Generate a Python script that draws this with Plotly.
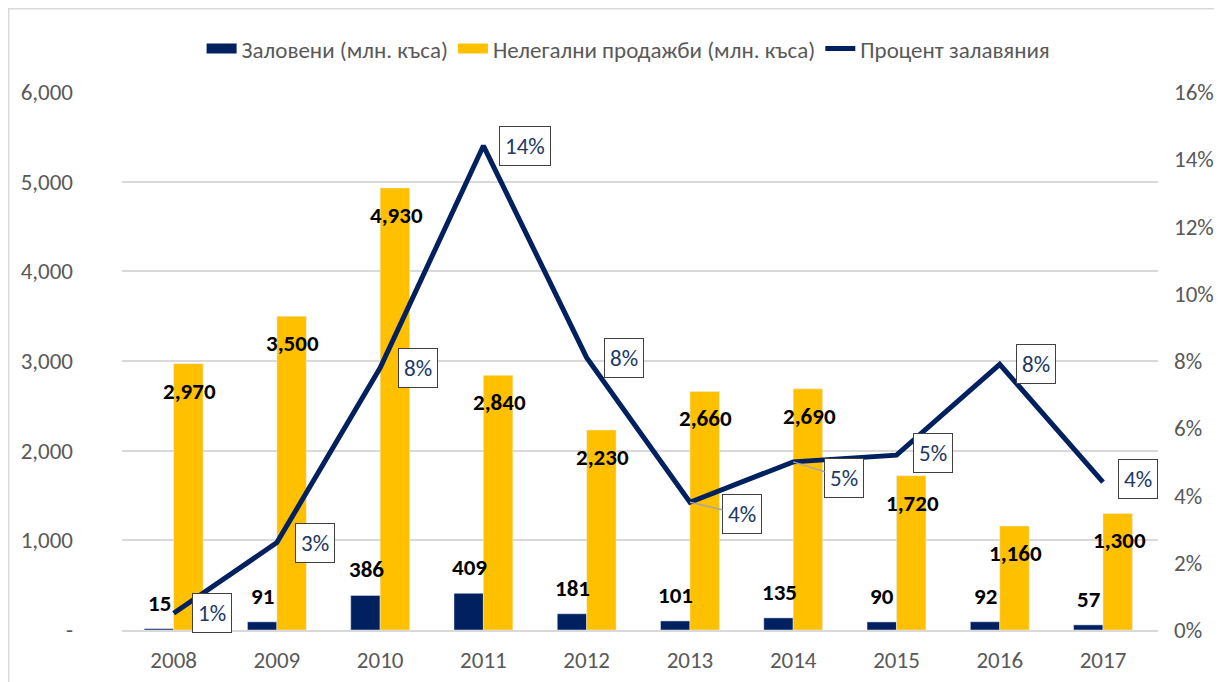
import plotly.graph_objects as go

years = ["2008", "2009", "2010", "2011", "2012", "2013", "2014", "2015", "2016", "2017"]
seized = [15, 91, 386, 409, 181, 101, 135, 90, 92, 57]
illegal_sales = [2970, 3500, 4930, 2840, 2230, 2660, 2690, 1720, 1160, 1300]
seizure_pct = [0.005, 0.026, 0.078, 0.144, 0.081, 0.038, 0.050, 0.052, 0.079, 0.044]
pct_labels = ["1%", "3%", "8%", "14%", "8%", "4%", "5%", "5%", "8%", "4%"]
left_ticks = [0, 1000, 2000, 3000, 4000, 5000, 6000]
left_tick_text = ["-", "1,000", "2,000", "3,000", "4,000", "5,000", "6,000"]
right_ticks = [0, 0.02, 0.04, 0.06, 0.08, 0.10, 0.12, 0.14, 0.16]
series_names = ["Заловени (млн. къса)", "Нелегални продажби (млн. къса)", "Процент залавяния"]

NAVY = "#002060"
GOLD = "#FFC000"
GRAY = "#595959"
FONT = "Carlito, Lato, Roboto, sans-serif"

fig = go.Figure()
fig.add_trace(go.Bar(x=years, y=seized, name=series_names[0], marker_color=NAVY, showlegend=False))
fig.add_trace(go.Bar(x=years, y=illegal_sales, name=series_names[1], marker_color=GOLD, showlegend=False))
# legend-only entries drawn as wide rectangles
fig.add_trace(go.Scatter(x=[None], y=[None], mode="lines", name=series_names[0],
                         line=dict(color=NAVY, width=15)))
fig.add_trace(go.Scatter(x=[None], y=[None], mode="lines", name=series_names[1],
                         line=dict(color=GOLD, width=15)))
fig.add_trace(go.Scatter(x=years, y=seizure_pct, name=series_names[2], yaxis="y2",
                         mode="lines", line=dict(color=NAVY, width=5)))

ann = []
# seized labels above navy bars (x given as category index)
for i, v in enumerate(seized):
    ann.append(dict(x=i, y=v, xref="x", yref="y", text=f"<b>{v:,}</b>", showarrow=False,
                    xshift=-14, yshift=26, font=dict(size=23, color="black", family=FONT)))
# illegal sales labels inside end of gold bars
for i, v in enumerate(illegal_sales):
    ann.append(dict(x=i, y=v, xref="x", yref="y", text=f"<b>{v:,}</b>", showarrow=False,
                    xshift=16, yshift=-27, font=dict(size=23, color="black", family=FONT)))
# percent labels
offsets = [(38, 0), (38, 0), (38, 0), (42, 0), (37, 0), (52, 12), (51, 16), (37, -2), (36, 0), (35, -3)]
leaders = [False, False, False, False, False, True, True, False, False, False]
for i, (p, t, (dx, dy), ld) in enumerate(zip(seizure_pct, pct_labels, offsets, leaders)):
    ann.append(dict(x=i, y=p, xref="x", yref="y2", text=t, showarrow=True,
                    ax=dx, ay=dy,
                    arrowhead=0, arrowwidth=1.5,
                    arrowcolor="#A6A6A6" if ld else "rgba(0,0,0,0)",
                    standoff=0,
                    bgcolor="white", bordercolor="#404040", borderwidth=1, borderpad=5,
                    font=dict(size=23, color="#203864", family=FONT)))

fig.update_layout(
    width=1222, height=682,
    margin=dict(l=114, r=72, t=84, b=60, autoexpand=False),
    paper_bgcolor="white", plot_bgcolor="white",
    font=dict(family=FONT, color=GRAY, size=23),
    barmode="group", bargap=0.43, bargroupgap=0,
    showlegend=True,
    legend=dict(orientation="h", x=0.489, xanchor="center", y=0.972, yanchor="top",
                yref="container", font=dict(size=23, color=GRAY), itemwidth=30,
                traceorder="normal", tracegroupgap=0),
    xaxis=dict(type="category", showgrid=False, showline=True, linecolor="#D9D9D9", linewidth=1.5,
               tickfont=dict(size=23, color=GRAY), ticklabelstandoff=9),
    yaxis=dict(range=[0, 6000], tickvals=left_ticks, ticktext=left_tick_text,
               showgrid=True, gridcolor="#D9D9D9", gridwidth=1.5, zeroline=False,
               tickfont=dict(size=23, color=GRAY), ticklabelstandoff=48),
    yaxis2=dict(range=[0, 0.16], tickvals=right_ticks, tickformat=".0%", overlaying="y", side="right",
                showgrid=False, zeroline=False, tickfont=dict(size=23, color=GRAY), ticklabelstandoff=15),
    annotations=ann,
    shapes=[dict(type="rect", xref="paper", yref="paper", x0=-0.1094, x1=1.0577, y0=-0.2, y1=1.1547,
                 line=dict(color="#D9D9D9", width=1.5), fillcolor="rgba(0,0,0,0)", layer="below")],
)

fig.write_html("out.html")
